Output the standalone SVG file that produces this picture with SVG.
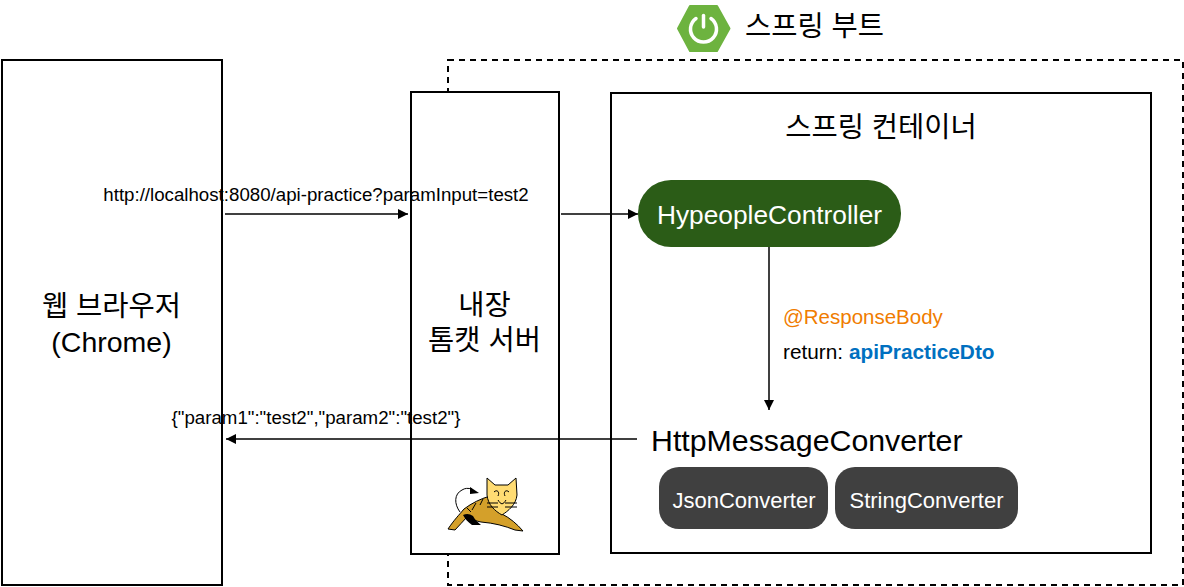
<svg xmlns="http://www.w3.org/2000/svg" width="1184" height="587" viewBox="0 0 1184 587">
<style>
text{font-family:"Liberation Sans","Noto Sans CJK KR",sans-serif;fill:#000}
.box{fill:#fff;stroke:#000;stroke-width:2}
.l{font-size:28.500px;text-anchor:middle}
.s{font-size:18.700px;text-anchor:middle}
.w{font-size:22px;text-anchor:middle;fill:#fff}
.dark{fill:#404040}
.c{stroke:#000;stroke-width:1.500;fill:none;marker-end:url(#a)}
.cat{stroke:#000;stroke-width:1;fill:none}
</style>
<defs><marker id="a" markerUnits="userSpaceOnUse" markerWidth="11" markerHeight="10" refX="10" refY="5" orient="auto"><path d="M0 0L10 5L0 10Z" fill="#000"/></marker></defs>
<rect width="1184" height="587" fill="#fff"/>
<g id="boot-boundary"><rect x="448" y="60" width="735" height="525" fill="none" stroke="#000" stroke-width="2" stroke-dasharray="6 5"/></g>
<g id="spring-boot-title">
<path d="M678 28.500L690 6H717L729.500 28.500L717 51H690Z" fill="#6db33f" stroke="#6db33f" stroke-linejoin="round" stroke-width="2"/>
<path d="M696 18.500A13 13 0 1 0 711 18.500" fill="none" stroke="#fff" stroke-width="3.500" stroke-linecap="round"/>
<path d="M703.500 15.500V27" stroke="#fff" stroke-width="3.500" stroke-linecap="round"/>
<text x="745" y="36" font-size="28.500">스프링 부트</text></g>
<g id="browser"><rect class="box" x="2" y="60" width="220" height="525"/><text class="l" x="111.500" y="316">웹 브라우저</text><text class="l" x="111.500" y="352">(Chrome)</text></g>
<g id="tomcat"><rect class="box" x="411" y="92" width="148" height="462"/><text class="l" x="484.500" y="315">내장</text><text class="l" x="484.500" y="350">톰캣 서버</text>
<path d="M448 529C454 520 459 515 464 509C472 503 480 499 490 496L502 514C510 518 517 524 523 531L515 530C505 526 494 523 481 522C476 521 470 519 467 517C463 521 459 526 455 530Z" fill="#d4a02a" stroke="#000"/>
<path d="M463 515C467 513 470 514 473 516C475 520 478 522 481 525L472 525C468 522 465 519 463 515Z" fill="#000"/>
<path d="M460 512C454 504 454 494 462 490C465 488 468 488 472 489" class="cat" stroke-width="1.500"/>
<path d="M470 487L479 493L470 494Z" fill="#000"/>
<path d="M487 478L495 485H508L516 478L517 495C516 505 508 511 502 515C495 511 488 505 487 495Z" fill="#ffdc73" stroke="#000"/>
<path class="cat" d="M476 503L472 510M483 499L480 505M467 508L471 512M487 503H498M505 503H517M487 507H498M505 507H517M494 492C497 489 500 492 498 496M509 492C506 489 503 492 505 496M498 500C501 505 503 505 506 500"/></g>
<g id="container"><rect class="box" x="611" y="93" width="540" height="460"/><text class="l" x="881" y="137">스프링 컨테이너</text></g>
<g id="controller"><rect x="638" y="180" width="263" height="67" rx="33" fill="#2b5c17"/><text class="w" x="769.500" y="224" style="font-size:26.300px">HypeopleController</text></g>
<g id="converter-title"><text x="651" y="451" font-size="30.300">HttpMessageConverter</text></g>
<g id="json-converter"><rect class="dark" x="659" y="467" width="169" height="62" rx="20"/><text class="w" x="744" y="508">JsonConverter</text></g>
<g id="string-converter"><rect class="dark" x="835" y="467" width="183" height="62" rx="20"/><text class="w" x="926.500" y="508">StringConverter</text></g>
<g id="connectors">
<path class="c" d="M225 214H408"/><path class="c" d="M561 214H638"/><path class="c" d="M769 247V410"/><path class="c" d="M637 439H226"/>
</g>
<g id="labels">
<text class="s" x="316" y="201">http://localhost:8080/api-practice?paramInput=test2</text>
<text class="s" x="316" y="424">{"param1":"test2","param2":"test2"}</text>
<text x="783" y="324" font-size="20.500" style="fill:#f07c00">@ResponseBody</text>
<text x="783" y="359" font-size="20.800">return: <tspan font-weight="bold" style="fill:#0070c0">apiPracticeDto</tspan></text>
</g>
</svg>
